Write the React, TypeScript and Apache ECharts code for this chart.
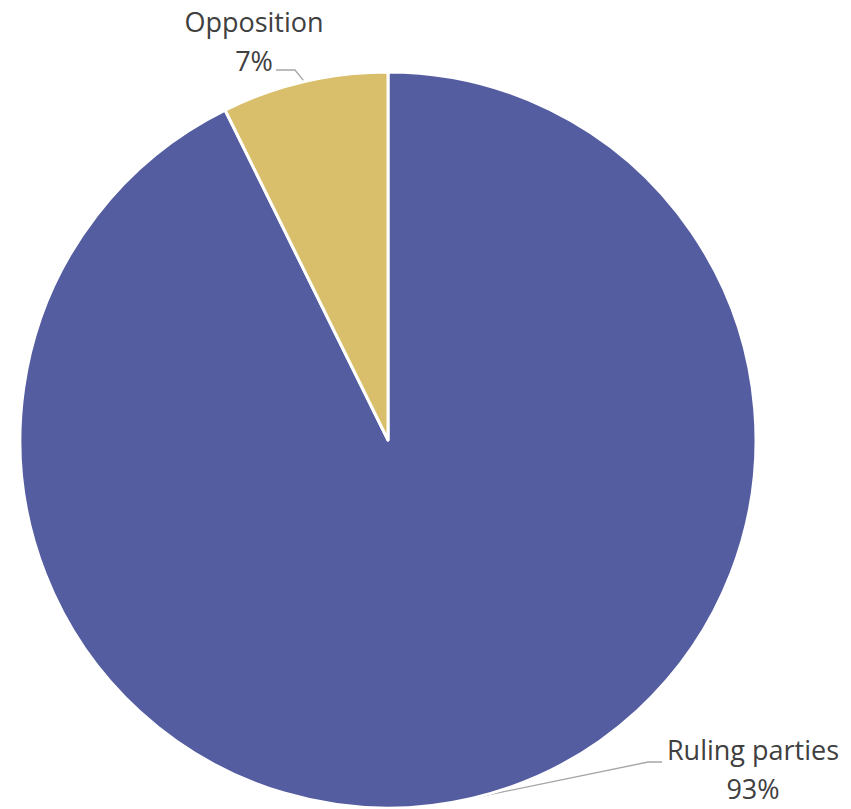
import React, { useEffect, useRef } from "react";
import * as echarts from "echarts";

const categories = ["Ruling parties", "Opposition"];
const values = [92.7, 7.3];
const colors = ["#535da0", "#d9bf6b"];

export default function App() {
  const ref = useRef<HTMLDivElement>(null);
  useEffect(() => {
    if (!ref.current) return;
    const chart = echarts.init(ref.current, null, { renderer: "svg" });
    const total = values.reduce((a, b) => a + b, 0);
    chart.setOption({
      animation: false,
      backgroundColor: "#ffffff",
      series: [
        {
          type: "pie",
          center: [388, 440],
          radius: [0, 368],
          startAngle: 90,
          clockwise: true,
          itemStyle: { borderColor: "#ffffff", borderWidth: 3 },
          label: {
            show: true,
            position: "outside",
            color: "#404040",
            fontFamily: "Open Sans",
            fontSize: 27,
            lineHeight: 39,
            align: "center",
            formatter: (p: any) => `${p.name}\n${Math.round((p.value / total) * 100)}%`,
          },
          labelLine: { show: true, lineStyle: { color: "#a6a6a6", width: 1.3 } },
          labelLayout: (p: any) => {
            const s = p.labelLinePoints ? p.labelLinePoints[0] : [0, 0];
            if (p.dataIndex === 1) {
              return {
                x: 254,
                y: 41,
                align: "center",
                verticalAlign: "middle",
                labelLinePoints: [s, [295, 70], [276, 70]],
              };
            }
            return {
              x: 753,
              y: 769,
              align: "center",
              verticalAlign: "middle",
              labelLinePoints: [s, [648, 762], [662, 762]],
            };
          },
          data: categories.map((c, i) => ({
            name: c,
            value: values[i],
            itemStyle: { color: colors[i] },
          })),
        },
      ],
    });
    return () => chart.dispose();
  }, []);
  return (
    <div
      ref={ref}
      style={{ position: "fixed", left: 0, top: 0, width: 851, height: 809 }}
    />
  );
}
